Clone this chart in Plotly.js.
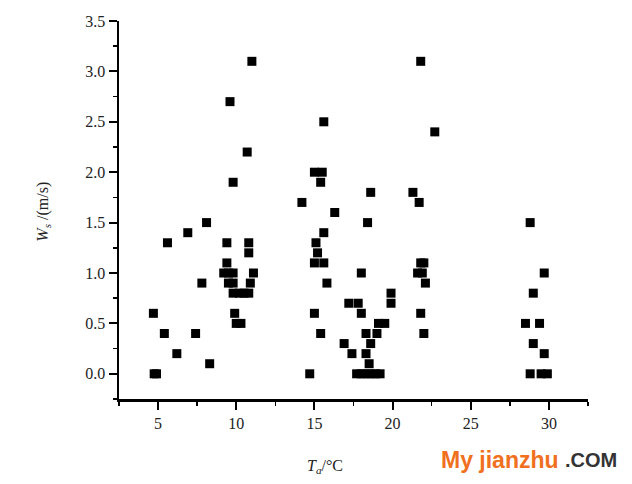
<!DOCTYPE html>
<html>
<head>
<meta charset="utf-8">
<script src="https://cdn.plot.ly/plotly-3.0.1.min.js"></script>
<style>html,body{margin:0;padding:0;background:#fff;}#chart{width:632px;height:484px;}</style>
</head>
<body>
<div id="chart"></div>
<script>
// Air temperature Ta (°C)
const tempX = [
  4.75, 4.9, 4.7, 5.4, 5.6, 6.2, 6.9, 7.4, 7.8, 8.1, 8.3,
  9.2, 9.5, 9.8, 9.4, 9.4, 9.5, 9.8, 9.6, 9.8, 9.9,
  9.8, 10.2, 10.5, 10.8, 10.0, 10.3, 10.7, 10.8, 10.8, 10.9, 11.1, 11.0,
  14.2, 14.7, 15.0, 15.5, 15.4, 15.6, 15.6, 15.1, 15.2, 15.0, 15.6, 15.8, 15.0, 15.4,
  16.3, 16.9, 17.2, 17.8, 17.4,
  17.7, 18.0, 18.3, 18.6, 18.9, 19.2,
  18.0, 18.0, 18.3, 18.3, 18.5, 18.6, 18.4, 18.6, 19.0, 19.1, 19.5, 19.9, 19.9,
  21.3, 21.7, 21.8, 21.8, 22.0, 21.6, 21.9, 22.1, 21.8, 22.0, 22.7,
  28.8, 29.7, 29.0, 28.5, 29.4, 29.0, 29.7, 28.8, 29.5, 29.9
];
// Wind speed Ws (m/s)
const windY = [
  0.0, 0.0, 0.6, 0.4, 1.3, 0.2, 1.4, 0.4, 0.9, 1.5, 0.1,
  1.0, 1.0, 1.0, 1.3, 1.1, 0.9, 0.9, 2.7, 1.9, 0.6,
  0.8, 0.8, 0.8, 0.8, 0.5, 0.5, 2.2, 1.3, 1.2, 0.9, 1.0, 3.1,
  1.7, 0.0, 2.0, 2.0, 1.9, 2.5, 1.4, 1.3, 1.2, 1.1, 1.1, 0.9, 0.6, 0.4,
  1.6, 0.3, 0.7, 0.7, 0.2,
  0.0, 0.0, 0.0, 0.0, 0.0, 0.0,
  1.0, 0.6, 0.4, 0.2, 0.1, 0.3, 1.5, 1.8, 0.4, 0.5, 0.5, 0.8, 0.7,
  1.8, 1.7, 3.1, 1.1, 1.1, 1.0, 1.0, 0.9, 0.6, 0.4, 2.4,
  1.5, 1.0, 0.8, 0.5, 0.5, 0.3, 0.2, 0.0, 0.0, 0.0
];
const xTickVals = [5, 10, 15, 20, 25, 30];
const yTickVals = [0.0, 0.5, 1.0, 1.5, 2.0, 2.5, 3.0, 3.5];

const trace = {
  x: tempX, y: windY, type: 'scatter', mode: 'markers',
  marker: {symbol: 'square', size: 9, color: '#000', line: {width: 0}},
  hoverinfo: 'skip'
};

const axisCommon = {
  showline: true, linecolor: '#000', linewidth: 2.5, mirror: false,
  showgrid: false, zeroline: false,
  ticks: 'outside', ticklen: 8, tickwidth: 2, tickcolor: '#000',
  tickfont: {family: 'Liberation Serif, Times New Roman, serif', size: 16, color: '#222'}
};

const layout = {
  width: 632, height: 484,
  margin: {l: 119, r: 44, t: 21, b: 85},
  paper_bgcolor: '#fff', plot_bgcolor: '#fff',
  showlegend: false,
  xaxis: Object.assign({}, axisCommon, {
    range: [2.5, 32.5], tickmode: 'array', tickvals: xTickVals,
    minor: {dtick: 2.5, tick0: 0, ticks: 'outside', ticklen: 4, tickwidth: 1.5, tickcolor: '#000', showgrid: false}
  }),
  yaxis: Object.assign({}, axisCommon, {
    range: [-0.25, 3.5], tickmode: 'array', tickvals: yTickVals, tickformat: '.1f',
    minor: {dtick: 0.25, tick0: 0, ticks: 'outside', ticklen: 4, tickwidth: 1.5, tickcolor: '#000', showgrid: false}
  }),
  annotations: [
    {xref: 'paper', yref: 'paper', x: -0.185, y: 0.495, textangle: -90, showarrow: false,
     text: '<i>W</i><sub><i>s</i></sub> /(m/s)',
     font: {family: 'Liberation Serif, Times New Roman, serif', size: 16, color: '#222'}},
    {xref: 'paper', yref: 'paper', x: 0.439, y: -0.21, showarrow: false,
     text: '<i>T</i><sub><i>a</i></sub>/°C',
     font: {family: 'Liberation Serif, Times New Roman, serif', size: 16, color: '#222'}},
    {xref: 'paper', yref: 'paper', x: 0.682, y: -0.161, xanchor: 'left', yanchor: 'middle', showarrow: false,
     text: '<b>My jianzhu</b>',
     font: {family: 'Liberation Sans, Arial, sans-serif', size: 23, color: '#f07020'}},
    {xref: 'paper', yref: 'paper', x: 0.947, y: -0.161, xanchor: 'left', yanchor: 'middle', showarrow: false,
     text: '<b>.COM</b>',
     font: {family: 'Liberation Sans, Arial, sans-serif', size: 20, color: '#333'}}
  ]
};

Plotly.newPlot('chart', [trace], layout, {displayModeBar: false, staticPlot: true});
</script>
</body>
</html>
